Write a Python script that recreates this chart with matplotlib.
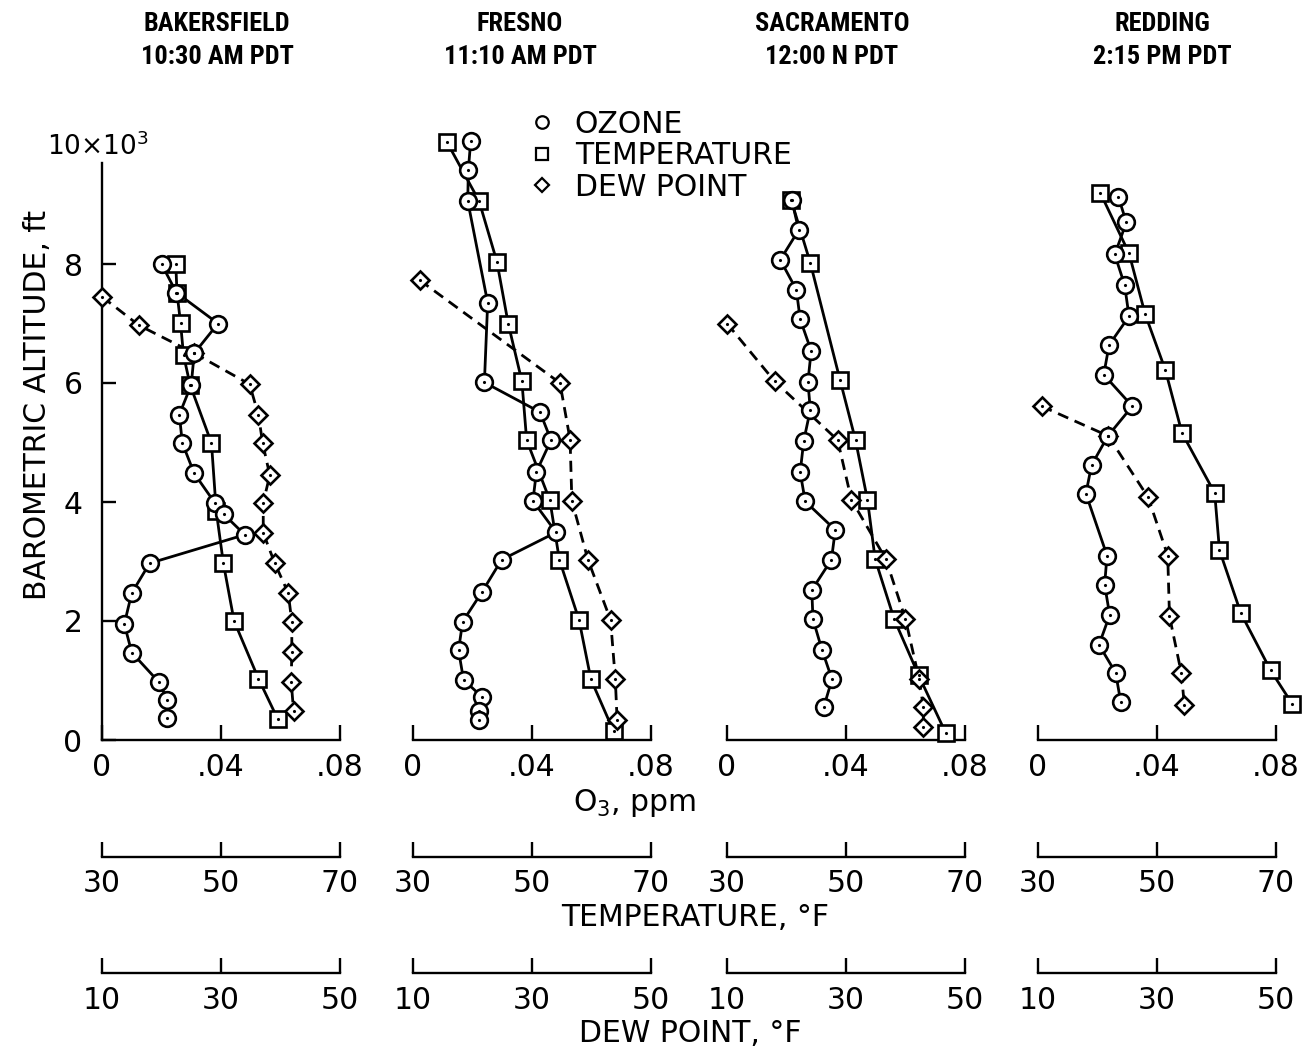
import matplotlib
matplotlib.use("Agg")
import matplotlib.pyplot as plt
from matplotlib.lines import Line2D
from matplotlib import font_manager

plt.rcParams['font.family'] = ['DejaVu Sans']

# ---------------- data ----------------
stations = ["BAKERSFIELD", "FRESNO", "SACRAMENTO", "REDDING"]
times = ["10:30 AM PDT", "11:10 AM PDT", "12:00 N PDT", "2:15 PM PDT"]

# Bakersfield
bak_oz_alt = [8.0, 7.52, 7.0, 6.5, 5.97, 5.47, 4.99, 4.48, 3.98, 3.79, 3.45, 2.97, 2.47, 1.95, 1.47, 0.98, 0.68, 0.37]
bak_oz = [0.020, 0.025, 0.039, 0.031, 0.030, 0.026, 0.027, 0.031, 0.038, 0.041, 0.048, 0.016, 0.010, 0.0075, 0.010, 0.019, 0.022, 0.022]
bak_t_alt = [8.0, 7.52, 7.01, 6.47, 5.97, 4.99, 3.85, 2.97, 2.0, 1.03, 0.36]
bak_t = [42.4, 42.6, 43.2, 43.7, 44.8, 48.4, 49.2, 50.4, 52.2, 56.3, 59.5]
bak_d_alt = [7.45, 6.97, 6.5, 5.98, 5.46, 4.99, 4.45, 3.99, 3.48, 2.98, 2.47, 1.99, 1.48, 0.98, 0.48]
bak_d = [10.0, 16.2, 25.5, 34.8, 36.3, 37.0, 38.2, 37.1, 37.1, 39.0, 41.3, 41.9, 41.9, 41.8, 42.2]

# Fresno
fre_oz_alt = [10.07, 9.58, 9.06, 7.35, 6.01, 5.51, 5.04, 4.51, 4.02, 3.49, 3.03, 2.48, 1.99, 1.51, 1.01, 0.73, 0.48, 0.33]
fre_oz = [0.0194, 0.0186, 0.0184, 0.0251, 0.0240, 0.0427, 0.0464, 0.0415, 0.0403, 0.0481, 0.0298, 0.0231, 0.0167, 0.0153, 0.0170, 0.0231, 0.0222, 0.0222]
fre_t_alt = [10.05, 9.06, 8.04, 7.0, 6.03, 5.04, 4.03, 3.03, 2.02, 1.02, 0.15]
fre_t = [35.7, 41.1, 44.1, 46.0, 48.3, 49.1, 53.0, 54.6, 57.9, 59.9, 63.7]
fre_d_alt = [7.73, 6.0, 5.05, 4.02, 3.03, 2.02, 1.03, 0.34]
fre_d = [11.1, 34.7, 36.4, 36.7, 39.4, 43.2, 44.0, 44.3]

# Sacramento
sac_oz_alt = [9.07, 8.57, 8.07, 7.57, 7.07, 6.54, 6.02, 5.55, 5.03, 4.5, 4.01, 3.53, 3.03, 2.52, 2.03, 1.52, 1.02, 0.55]
sac_oz = [0.0218, 0.0241, 0.0179, 0.0233, 0.0246, 0.0283, 0.0272, 0.0280, 0.0258, 0.0246, 0.0263, 0.0364, 0.0351, 0.0285, 0.0289, 0.0319, 0.0353, 0.0325]
sac_t_alt = [9.07, 8.02, 6.05, 5.04, 4.04, 3.04, 2.03, 1.09, 0.11]
sac_t = [40.8, 44.0, 49.0, 51.6, 53.6, 54.9, 58.1, 62.2, 66.8]
sac_d_alt = [7.0, 6.03, 5.04, 4.04, 3.04, 2.03, 1.02, 0.55, 0.22]
sac_d = [10.0, 18.0, 28.6, 30.9, 36.7, 40.0, 42.3, 43.0, 43.0]

# Redding
red_oz_alt = [9.13, 8.7, 8.16, 7.65, 7.12, 6.64, 6.14, 5.61, 5.11, 4.62, 4.14, 3.1, 2.61, 2.1, 1.6, 1.13, 0.64]
red_oz = [0.0270, 0.0297, 0.0258, 0.0291, 0.0306, 0.0239, 0.0221, 0.0317, 0.0235, 0.0180, 0.0161, 0.0232, 0.0224, 0.0241, 0.0205, 0.0261, 0.0278]
red_t_alt = [9.19, 8.18, 7.16, 6.22, 5.16, 4.15, 3.19, 2.13, 1.17, 0.61]
red_t = [40.5, 45.3, 48.0, 51.4, 54.2, 59.7, 60.5, 64.1, 69.1, 72.7]
red_d_alt = [5.61, 5.11, 4.08, 3.1, 2.08, 1.12, 0.58]
red_d = [10.6, 21.8, 28.5, 31.8, 32.1, 34.1, 34.6]

o3_ticks = [0, 0.04, 0.08]
o3_labels = ["0", ".04", ".08"]
t_ticks = [30, 50, 70]
d_ticks = [10, 30, 50]
alt_ticks = [0, 2, 4, 6, 8]

panels = [
    (bak_oz_alt, bak_oz, bak_t_alt, bak_t, bak_d_alt, bak_d),
    (fre_oz_alt, fre_oz, fre_t_alt, fre_t, fre_d_alt, fre_d),
    (sac_oz_alt, sac_oz, sac_t_alt, sac_t, sac_d_alt, sac_d),
    (red_oz_alt, red_oz, red_t_alt, red_t, red_d_alt, red_d),
]

# condensed font for the station headings, if available
avail = {f.name for f in font_manager.fontManager.ttflist}
title_family = ["DejaVu Sans"]
title_stretch = "normal"
for cand in ["Liberation Sans Narrow", "Roboto Condensed", "Open Sans Condensed", "DejaVu Sans Condensed"]:
    if cand in avail:
        title_family = [cand, "DejaVu Sans"]
        break
else:
    cond = [f for f in font_manager.fontManager.ttflist
            if f.name == "DejaVu Sans" and "Condensed" in f.fname]
    if cond:
        title_stretch = "condensed"

# ---------------- layout ----------------
W, H = 1303, 1052
fig = plt.figure(figsize=(W / 100, H / 100), dpi=100)
fig.patch.set_facecolor("white")

lefts_px = [102, 413, 727, 1038]
width_px = 238
y0_px, y10_px = 740, 145
title_x_px = [217, 520, 832, 1162]

FS = 21.5
LW = 2.0
marker_kw = dict(ls="none", mfc="white", mec="black", mew=1.9, zorder=4, clip_on=False)
dot_kw = dict(ls="none", marker=".", ms=2.5, color="black", zorder=5, clip_on=False)


def style_bottom(a, ticks, labels, outward):
    for s in ["top", "right", "left"]:
        a.spines[s].set_visible(False)
    a.spines["bottom"].set_visible(True)
    a.spines["bottom"].set_linewidth(1.7)
    a.spines["bottom"].set_position(("outward", outward))
    a.spines["bottom"].set_bounds(ticks[0], ticks[-1])
    a.xaxis.set_ticks_position("bottom")
    a.set_xticks(ticks)
    a.set_xticklabels(labels)
    a.tick_params(axis="x", direction="in", length=11, width=1.7,
                  labelsize=FS, pad=9)


for i, (oz_alt, oz, t_alt, t, d_alt, d) in enumerate(panels):
    ax = fig.add_axes([lefts_px[i] / W, 1 - y0_px / H, width_px / W, (y0_px - y10_px) / H])
    ax.set_xlim(0, 0.08)
    ax.set_ylim(0, 10)
    ax.patch.set_visible(False)

    axT = ax.twiny()
    axT.set_xlim(30, 70)
    axD = ax.twiny()
    axD.set_xlim(10, 50)

    style_bottom(ax, o3_ticks, o3_labels, 0)
    style_bottom(axT, t_ticks, [str(v) for v in t_ticks], 84)
    style_bottom(axD, d_ticks, [str(v) for v in d_ticks], 168)
    for a in (axT, axD):
        a.tick_params(axis="y", left=False, right=False, labelleft=False, labelright=False)

    if i == 0:
        ax.spines["left"].set_visible(True)
        ax.spines["left"].set_linewidth(1.7)
        ax.spines["left"].set_bounds(0, 9.7)
        ax.set_yticks(alt_ticks)
        ax.set_yticklabels([str(v) for v in alt_ticks])
        ax.tick_params(axis="y", direction="in", length=10, width=1.7, labelsize=FS, pad=14)
    else:
        ax.set_yticks([])

    # lines (drawn on main axes using twin-axes data transforms)
    ax.plot(oz, oz_alt, color="black", lw=LW, zorder=2, clip_on=False)
    ax.plot(t, t_alt, color="black", lw=LW, zorder=2, clip_on=False, transform=axT.transData)
    ax.plot(d, d_alt, color="black", lw=LW, ls=(0, (4, 2.5)), zorder=2, clip_on=False,
            transform=axD.transData)
    # markers
    ax.plot(t, t_alt, marker="s", ms=11, transform=axT.transData, **marker_kw)
    ax.plot(d, d_alt, marker="D", ms=9, transform=axD.transData, **marker_kw)
    ax.plot(oz, oz_alt, marker="o", ms=12, **marker_kw)
    ax.plot(t, t_alt, transform=axT.transData, **dot_kw)
    ax.plot(d, d_alt, transform=axD.transData, **dot_kw)
    ax.plot(oz, oz_alt, **dot_kw)
    ax.set_xlim(0, 0.08)
    ax.set_ylim(0, 10)

    fig.text(title_x_px[i] / W, 1 - 24 / H, stations[i], ha="center", va="center",
             fontsize=19, fontweight="bold", family=title_family, fontstretch=title_stretch)
    fig.text(title_x_px[i] / W, 1 - 57 / H, times[i], ha="center", va="center",
             fontsize=19, fontweight="bold", family=title_family, fontstretch=title_stretch)

# "10x10^3" label at top of altitude axis
fig.text(47 / W, 1 - 147 / H, "10×10$^3$", ha="left", va="center", fontsize=19)

# axis titles
fig.text(38 / W, 1 - 405 / H, "BAROMETRIC ALTITUDE, ft", rotation=90, ha="center",
         va="center", fontsize=FS)
fig.text(635 / W, 1 - 803 / H, "O$_3$, ppm", ha="center", va="center", fontsize=FS)
fig.text(695 / W, 1 - 918 / H, "TEMPERATURE, °F", ha="center", va="center", fontsize=FS)
fig.text(690 / W, 1 - 1033 / H, "DEW POINT, °F", ha="center", va="center", fontsize=FS)

# legend
handles = [
    Line2D([], [], ls="none", marker="o", ms=9, mfc="white", mec="black", mew=1.6),
    Line2D([], [], ls="none", marker="s", ms=9, mfc="white", mec="black", mew=1.6),
    Line2D([], [], ls="none", marker="D", ms=7, mfc="white", mec="black", mew=1.6),
]
fig.legend(handles, ["OZONE", "TEMPERATURE", "DEW POINT"], loc="upper left",
           bbox_to_anchor=(512 / W, 1 - 95 / H), frameon=False, fontsize=FS,
           handlelength=1.0, handletextpad=0.6, labelspacing=0.08, borderpad=0)

fig.savefig("out.png", dpi=100, facecolor="white")
